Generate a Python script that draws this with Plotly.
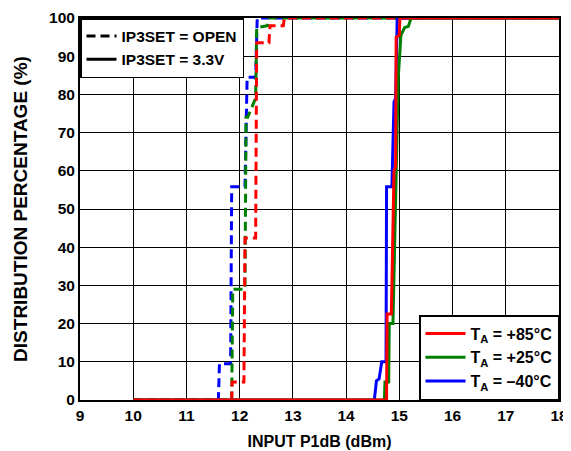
import plotly.graph_objects as go

# Dashed curves (IP3SET = OPEN)
open_m40_x = [10, 11.60, 11.62, 11.83, 11.85, 12.10, 12.14, 12.30, 12.33, 18]
open_m40_y = [0, 0, 9.5, 9.5, 55.8, 55.8, 84.5, 84.5, 100, 100]
open_p25_x = [10, 11.85, 11.87, 12.10, 12.12, 12.15, 12.30, 12.32, 12.52, 12.55, 18]
open_p25_y = [0, 0, 29, 29, 74, 74, 79, 97.5, 98, 100, 100]
open_p85_x = [10, 11.85, 11.86, 12.08, 12.10, 12.30, 12.32, 12.55, 12.57, 12.82, 12.84, 18]
open_p85_y = [0, 0, 4.7, 4.7, 42.4, 42.4, 93.5, 93.5, 98, 98, 100, 100]

# Solid curves (IP3SET = 3.3V)
v33_m40_x = [10, 14.53, 14.57, 14.62, 14.67, 14.75, 14.76, 14.86, 14.90, 14.93, 14.96, 18]
v33_m40_y = [0, 0, 5, 5.5, 10, 10, 55.8, 55.8, 78, 79, 100, 100]
v33_p25_x = [10, 14.72, 14.73, 14.80, 14.81, 14.88, 14.98, 15.03, 15.10, 15.17, 15.22, 18]
v33_p25_y = [0, 0, 4.7, 4.7, 20, 20, 84.5, 95.5, 97.5, 97.8, 100, 100]
v33_p85_x = [10, 14.76, 14.77, 14.85, 14.90, 14.93, 14.94, 15.00, 15.01, 18]
v33_p85_y = [0, 0, 22.5, 22.5, 60, 61, 95, 95.5, 100, 100]

x_ticks = [9, 10, 11, 12, 13, 14, 15, 16, 17, 18]
y_ticks = [0, 10, 20, 30, 40, 50, 60, 70, 80, 90, 100]

RED, GREEN, BLUE = "#ff0000", "#008000", "#0000ff"
DASH = "9px,5px"
LW = 3

fig = go.Figure()

for xs, ys, c in [(open_m40_x, open_m40_y, BLUE), (open_p25_x, open_p25_y, GREEN),
                  (open_p85_x, open_p85_y, RED)]:
    fig.add_trace(go.Scatter(x=xs, y=ys, mode="lines", showlegend=False,
                             line=dict(color=c, width=LW, dash=DASH)))
for xs, ys, c in [(v33_m40_x, v33_m40_y, BLUE), (v33_p25_x, v33_p25_y, GREEN),
                  (v33_p85_x, v33_p85_y, RED)]:
    fig.add_trace(go.Scatter(x=xs, y=ys, mode="lines", showlegend=False,
                             line=dict(color=c, width=LW)))

# Legend 1 entries
fig.add_trace(go.Scatter(x=[None], y=[None], mode="lines", name="IP3SET = OPEN",
                         line=dict(color="black", width=LW, dash=DASH), legend="legend"))
fig.add_trace(go.Scatter(x=[None], y=[None], mode="lines", name="IP3SET = 3.3V",
                         line=dict(color="black", width=LW), legend="legend"))
# Legend 2 entries
for name, c in [("T<sub>A</sub> = +85°C", RED), ("T<sub>A</sub> = +25°C", GREEN),
                ("T<sub>A</sub> = –40°C", BLUE)]:
    fig.add_trace(go.Scatter(x=[None], y=[None], mode="lines", name=name,
                             line=dict(color=c, width=LW), legend="legend2"))

FAM = "Liberation Sans, Arial, sans-serif"
font_b = dict(family=FAM, size=15.5, color="black", weight="bold")
font_l2 = dict(family=FAM, size=16, color="black", weight="bold")
font_xt = dict(family=FAM, size=16, color="black", weight="bold")
font_yt = dict(family=FAM, size=19, color="black", weight="bold")

fig.update_layout(
    # page body adds an 8px offset; size/margins compensate so the plot sits at 80..559 x 18..400
    width=563, height=443,
    margin=dict(l=72, r=12, t=10, b=51),
    paper_bgcolor="white", plot_bgcolor="white",
    font=font_b,
    legend=dict(x=0, y=1, xanchor="left", yanchor="top", bgcolor="white",
                bordercolor="black", borderwidth=1.5, font=font_b,
                tracegroupgap=0, itemwidth=30),
    legend2=dict(x=1, y=0, xanchor="right", yanchor="bottom", bgcolor="white",
                 bordercolor="black", borderwidth=1.5, font=font_l2,
                 tracegroupgap=0, itemwidth=40),
)
fig.update_xaxes(range=[9, 18], tickvals=x_ticks, ticktext=[str(v) for v in x_ticks],
                 showgrid=True, gridcolor="black", gridwidth=1,
                 showline=True, linecolor="black", linewidth=2, mirror=True,
                 ticks="", zeroline=False, tickfont=font_b, automargin=False,
                 title=dict(text="INPUT P1dB (dBm)", font=font_xt, standoff=13))
fig.update_yaxes(range=[0, 100], tickvals=y_ticks, ticktext=[str(v) for v in y_ticks],
                 showgrid=True, gridcolor="black", gridwidth=1,
                 showline=True, linecolor="black", linewidth=2, mirror=True,
                 ticks="", zeroline=False, tickfont=font_b, automargin=False,
                 title=dict(text="DISTRIBUTION PERCENTAGE (%)", font=font_yt, standoff=16))

fig.write_html("out.html")
